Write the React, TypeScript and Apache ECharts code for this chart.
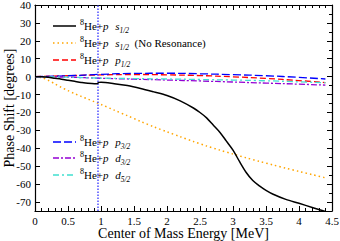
import React, { useEffect, useRef } from "react";
import * as echarts from "echarts";

// Energy grids (MeV)
const eS = [0, 0.1, 0.2, 0.3, 0.4, 0.5, 0.6, 0.7, 0.8, 0.9, 0.93, 0.97, 1.0, 1.2, 1.4, 1.6, 1.8, 2.0, 2.2, 2.4, 2.5, 2.6, 2.7, 2.8, 2.9, 3.0, 3.1, 3.2, 3.3, 3.4, 3.5, 3.6, 3.8, 4.0, 4.2, 4.4];
const s12 = [0, -0.1, -0.4, -0.9, -1.4, -2.0, -2.6, -3.2, -3.7, -3.9, -4.0, -3.2, -3.1, -3.9, -5.0, -6.6, -8.5, -10.5, -13.5, -17.5, -20, -23, -27, -31, -36, -41, -47.5, -53.5, -58, -61, -63.5, -65.5, -68.5, -70.7, -73, -75.3];

const eNR = [0, 0.1, 0.2, 0.3, 0.4, 0.5, 0.6, 0.7, 0.8, 0.9, 1.0, 1.2, 1.4, 1.6, 1.8, 2.0, 2.2, 2.4, 2.6, 2.8, 3.0, 3.2, 3.4, 3.6, 3.8, 4.0, 4.2, 4.4];
const s12NoRes = [0, -0.5, -2, -4, -6, -7.8, -9.5, -11, -12.5, -14, -15.5, -18.7, -21.8, -25, -28, -30.8, -33.5, -36.2, -38.7, -41, -43.2, -45.3, -47.3, -49.2, -51.1, -52.9, -54.7, -56.5];

const eP = [0, 0.5, 1.0, 1.5, 2.0, 2.5, 3.0, 3.5, 4.0, 4.4];
const p12 = [0, 0.5, 1.0, 1.2, 1.0, 0.6, -0.1, -1.0, -2.2, -3.3];
const p32 = [0, 0.5, 1.3, 1.8, 1.9, 1.6, 1.1, 0.5, -0.4, -1.3];
const d32 = [0, -0.3, -0.9, -1.4, -1.9, -2.4, -3.0, -3.6, -4.2, -4.7];
const d52 = [0, -0.3, -0.8, -1.1, -1.3, -1.6, -1.9, -2.3, -2.9, -3.4];

const resonanceE = 0.95;

const yLabels = [-70, -60, -50, -40, -30, -20, -10, 0, 10, 20, 30, 40];
const yMinor = [-75, -65, -55, -45, -35, -25, -15, -5, 5, 15, 25, 35];

const FONT = "Liberation Serif";

const legendLabels = [
  "{sup|8}{rm|He+}{it|p}  {it|s}{sub|1/2}",
  "{sup|8}{rm|He+}{it|p}  {it|s}{sub|1/2}{rm|  (No Resonance)}",
  "{sup|8}{rm|He+}{it|p}  {it|p}{sub|1/2}",
  "{sup|8}{rm|He+}{it|p}  {it|p}{sub|3/2}",
  "{sup|8}{rm|He+}{it|p}  {it|d}{sub|3/2}",
  "{sup|8}{rm|He+}{it|p}  {it|d}{sub|5/2}",
];

const rich = {
  rm: { fontFamily: FONT, fontSize: 11, fill: "#000", color: "#000", lineHeight: 16, verticalAlign: "middle" },
  it: { fontFamily: FONT, fontSize: 11, fontStyle: "italic", fill: "#000", color: "#000", lineHeight: 16, verticalAlign: "middle" },
  sup: { fontFamily: FONT, fontSize: 8, fill: "#000", color: "#000", lineHeight: 16, verticalAlign: "top" },
  sub: { fontFamily: FONT, fontSize: 7.5, fontStyle: "italic", fill: "#000", color: "#000", lineHeight: 16, verticalAlign: "bottom" },
};

const zip = (xs: number[], ys: number[]) => xs.map((x, i) => [x, ys[i]]);

const styles: { color: string; dash: any; width: number }[] = [
  { color: "#000000", dash: "solid", width: 1.5 },
  { color: "#FFA500", dash: [1.5, 3], width: 1.5 },
  { color: "#FF0000", dash: [6, 3], width: 1.3 },
  { color: "#0000FF", dash: [8, 3], width: 1.3 },
  { color: "#9400D3", dash: [6, 2, 2, 2], width: 1.3 },
  { color: "#40E0D0", dash: [6, 3, 2, 3], width: 1.3 },
];

const legendRowsY = [26, 43, 60, 142, 158, 175];

export default function App() {
  const ref = useRef<HTMLDivElement>(null);
  useEffect(() => {
    if (!ref.current) return;
    const chart = echarts.init(ref.current, null, { renderer: "svg" });
    const lineSeries = (i: number, data: number[][], smooth: any, extra: any = {}) => ({
      type: "line",
      data,
      symbol: "none",
      smooth,
      lineStyle: { color: styles[i].color, type: styles[i].dash, width: styles[i].width },
      itemStyle: { color: styles[i].color },
      ...extra,
    });
    const legendGraphics: any[] = [];
    legendRowsY.forEach((y, i) => {
      legendGraphics.push({
        type: "line",
        shape: { x1: 53, y1: y, x2: 76, y2: y },
        style: { stroke: styles[i].color, lineWidth: styles[i].width, lineDash: styles[i].dash === "solid" ? null : styles[i].dash },
      });
      legendGraphics.push({
        type: "text",
        x: 80,
        y: y,
        style: { text: legendLabels[i], rich, verticalAlign: "middle", align: "left" },
      });
    });
    const axisCommon = {
      axisLine: { onZero: false, lineStyle: { color: "#000", width: 1.2 } },
      splitLine: { show: false },
    };
    chart.setOption({
      animation: false,
      grid: { left: 35, right: 8, top: 5, bottom: 30, containLabel: false, outerBoundsMode: "none" },
      graphic: legendGraphics,
      xAxis: [
        {
          ...axisCommon,
          type: "value",
          min: 0,
          max: 4.5,
          interval: 0.5,
          name: "Center of Mass Energy [MeV]",
          nameLocation: "middle",
          nameGap: 15,
          nameMoveOverlap: false,
          nameTextStyle: { fontFamily: FONT, fontSize: 14, color: "#000" },
          axisTick: { inside: true, length: 5, lineStyle: { color: "#000" } },
          minorTick: { show: true, splitNumber: 5, length: 3, lineStyle: { color: "#000" } },
          axisLabel: { fontFamily: FONT, fontSize: 11, color: "#000", margin: 4 },
        },
        {
          ...axisCommon,
          type: "value",
          position: "top",
          min: 0,
          max: 4.5,
          interval: 0.5,
          axisTick: { inside: true, length: 5, lineStyle: { color: "#000" } },
          minorTick: { show: true, splitNumber: 5, length: 3, lineStyle: { color: "#000" } },
          axisLabel: { show: false },
        },
      ],
      yAxis: [
        {
          ...axisCommon,
          type: "value",
          min: -75,
          max: 40,
          name: "Phase Shift [degrees]",
          nameLocation: "middle",
          nameGap: 19,
          nameMoveOverlap: false,
          nameTextStyle: { fontFamily: FONT, fontSize: 14, color: "#000" },
          axisTick: { inside: true, length: 5, customValues: yLabels, lineStyle: { color: "#000" } },
          axisLabel: { fontFamily: FONT, fontSize: 11, color: "#000", margin: 4, customValues: yLabels },
        },
        {
          ...axisCommon,
          type: "value",
          position: "right",
          min: -75,
          max: 40,
          axisTick: { inside: true, length: 5, customValues: yLabels, lineStyle: { color: "#000" } },
          axisLabel: { show: false },
        },
        {
          ...axisCommon,
          type: "value",
          position: "right",
          min: -75,
          max: 40,
          axisLine: { show: false, onZero: false },
          axisTick: { inside: true, length: 3, customValues: yMinor, lineStyle: { color: "#000" } },
          axisLabel: { show: false },
        },
      ],
      series: [
        lineSeries(0, zip(eS, s12), 0.3, { z: 5 }),
        lineSeries(1, zip(eNR, s12NoRes), 0.3),
        lineSeries(2, zip(eP, p12), true),
        lineSeries(3, zip(eP, p32), true, {
          markLine: {
            silent: true,
            symbol: "none",
            label: { show: false },
            lineStyle: { color: "#4D4DFF", type: [1.5, 1.5], width: 1.5, opacity: 1 },
            emphasis: { disabled: true },
            data: [{ xAxis: resonanceE }],
          },
        }),
        lineSeries(4, zip(eP, d32), true),
        lineSeries(5, zip(eP, d52), true),
      ],
    });
    return () => chart.dispose();
  }, []);
  return <div ref={ref} style={{ width: 340, height: 241, position: "absolute", left: 0, top: 0 }} />;
}
